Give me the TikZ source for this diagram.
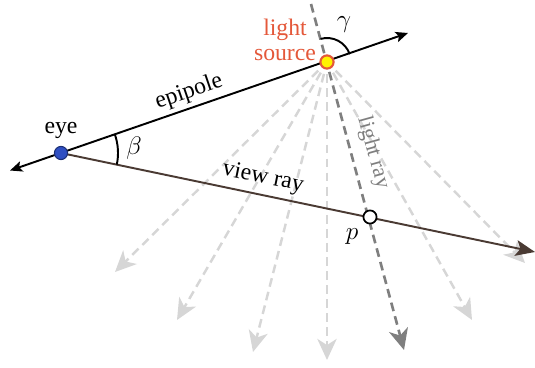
\documentclass[tikz,border=0pt]{standalone}
\usepackage{fontspec}
\setmainfont{Liberation Serif}
\usepackage{xcolor}
\usetikzlibrary{arrows.meta, calc}

\definecolor{raygray}{HTML}{D6D6D6}
\definecolor{lraygray}{HTML}{7F7F7F}
\definecolor{viewbrown}{HTML}{4A3A33}
\definecolor{srcred}{HTML}{E4583A}
\definecolor{eyeblue}{HTML}{2F4FC2}

\tikzset{
  fadedray/.style={raygray, line width=1.4pt, dash pattern=on 5pt off 3pt,
    -{Stealth[length=12pt, width=11pt, inset=3.5pt]}, shorten <=7pt},
  lightray/.style={lraygray, line width=1.5pt, dash pattern=on 5pt off 3pt,
    -{Stealth[length=12pt, width=11pt, inset=3.5pt]}},
  mainline/.style={line width=1.1pt},
  lbl/.style={font=\fontsize{13.5}{15}\selectfont, inner sep=1pt}
}

\begin{document}
\begin{tikzpicture}[x=0.02cm, y=-0.02cm]
  \useasboundingbox (0,0) rectangle (535,368);

  % Points
  \coordinate (eye) at (61,153);
  \coordinate (light) at (327,62);
  \coordinate (p) at (370,217);
  \coordinate (epiL) at (10,170.5);
  \coordinate (epiR) at (408,33);
  \coordinate (viewend) at (535,252);
  \coordinate (raytop) at (311,4);
  \coordinate (raytip) at (404,350);

  % Fan of light rays
  \foreach \tx/\ty [count=\i] in {115/272, 177/320, 253/352, 327/360, 472/320, 525/263}
    \coordinate (t\i) at (\tx,\ty);
  \foreach \i in {1,...,6}
    \draw[fadedray] (light) -- (t\i);

  % The light ray through p
  \draw[lightray] (raytop) -- (raytip);
  \node[lbl, lraygray, font=\fontsize{12.5}{14}\selectfont, rotate=-74.5] (lraylbl) at (373,153) {light ray};

  % Epipole line
  \draw[mainline, {Stealth[length=7pt, width=6pt, inset=1.5pt]}-{Stealth[length=7pt, width=6pt, inset=1.5pt]}] (epiL) -- (epiR);
  \node[lbl, rotate=18.9] (epilbl) at (189,92) {epipole};

  % View ray
  \draw[mainline, viewbrown, -{Stealth[length=11pt, width=9pt, inset=2.5pt]}] (eye) -- (viewend);
  \node[lbl, rotate=-11.7] (viewlbl) at (263,178) {view ray};

  % Angles (y axis points down, so angles are mirrored)
  \draw[line width=1.1pt] ($(eye)+(11.7:57)$) arc[start angle=11.7, end angle=-18.9, radius=57];
  \node[lbl, font=\fontsize{15}{16}\selectfont] (beta) at (134,148) {$\beta$};
  \draw[line width=1.1pt] ($(light)+(-18.9:24)$) arc[start angle=-18.9, end angle=-105.7, radius=24];
  \node[lbl, font=\fontsize{15}{16}\selectfont] (gamma) at (344,25) {$\gamma$};

  % Markers
  \node[circle, fill=eyeblue, draw=eyeblue!60!black, line width=0.6pt, inner sep=0pt, minimum size=7.5pt] (eyept) at (eye) {};
  \node[lbl] (eyelbl) at (61,130) {eye};
  \node[circle, fill=yellow, draw=srcred, line width=1.2pt, inner sep=0pt, minimum size=7.5pt] (src) at (light) {};
  \node[lbl, srcred, align=center, font=\fontsize{13.5}{14}\selectfont] (srclbl) at (285,40) {light\\source};
  \node[circle, fill=white, draw=black, line width=1pt, inner sep=0pt, minimum size=7.5pt] (ppt) at (p) {};
  \node[lbl, font=\fontsize{15}{16}\selectfont] (plbl) at (352,237) {$p$};
\end{tikzpicture}
\end{document}
